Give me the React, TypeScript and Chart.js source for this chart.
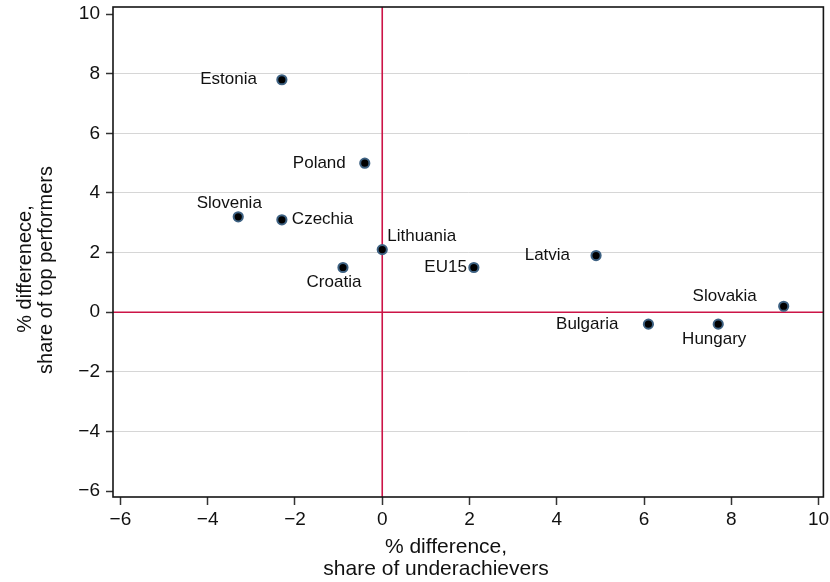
import React, { useEffect, useRef } from "react";
import { Chart, registerables } from "chart.js";

Chart.register(...registerables);

const COUNTRIES = ["Estonia", "Poland", "Slovenia", "Czechia", "Lithuania", "Croatia", "EU15", "Latvia", "Slovakia", "Bulgaria", "Hungary"];
const UNDERACHIEVERS_DIFF = [-2.3, -0.4, -3.3, -2.3, 0.0, -0.9, 2.1, 4.9, 9.2, 6.1, 7.7];
const TOP_PERFORMERS_DIFF = [7.8, 5.0, 3.2, 3.1, 2.1, 1.5, 1.5, 1.9, 0.2, -0.4, -0.4];
const X_TICKS = [-6, -4, -2, 0, 2, 4, 6, 8, 10];
const Y_TICKS = [-6, -4, -2, 0, 2, 4, 6, 8, 10];
const X_TITLE = ["% difference,", "share of underachievers"];
const Y_TITLE = ["% differenece,", "share of top performers"];

// label placement: [textAlign, dx, dy]
const LABEL_POS: [CanvasTextAlign, number, number][] = [
  ["right", -25, 0],
  ["right", -19, 0],
  ["center", -9, -14],
  ["left", 10, 0],
  ["left", 5, -13],
  ["center", -9, 15],
  ["right", -7, 0],
  ["right", -26, 0],
  ["center", -59, -10],
  ["right", -30, 0],
  ["center", -4, 15],
];

const FONT = "'Liberation Sans', Arial, Helvetica, sans-serif";
const RED = "#cc1447";

const overlay = {
  id: "overlay",
  beforeDatasetsDraw(chart: any) {
    const { ctx, chartArea: a, scales } = chart;
    const x0 = scales.x.getPixelForValue(0);
    const y0 = scales.y.getPixelForValue(0);
    ctx.save();
    ctx.strokeStyle = RED;
    ctx.lineWidth = 1.6;
    ctx.beginPath();
    ctx.moveTo(x0, a.top);
    ctx.lineTo(x0, a.bottom);
    ctx.moveTo(a.left, y0);
    ctx.lineTo(a.right, y0);
    ctx.stroke();
    ctx.strokeStyle = "#151515";
    ctx.lineWidth = 1.6;
    ctx.strokeRect(a.left, a.top, a.right - a.left, a.bottom - a.top);
    ctx.restore();
  },
  afterDatasetsDraw(chart: any) {
    const { ctx } = chart;
    const meta = chart.getDatasetMeta(0);
    ctx.save();
    ctx.fillStyle = "#111";
    ctx.font = `17px ${FONT}`;
    ctx.textBaseline = "middle";
    meta.data.forEach((pt: any, i: number) => {
      const [align, dx, dy] = LABEL_POS[i];
      ctx.textAlign = align;
      ctx.fillText(COUNTRIES[i], pt.x + dx, pt.y + dy);
    });
    // axis titles
    ctx.font = `21px ${FONT}`;
    ctx.textBaseline = "alphabetic";
    ctx.textAlign = "center";
    ctx.fillText(X_TITLE[0], 446, 553);
    ctx.fillText(X_TITLE[1], 436, 575);
    ctx.font = `20px ${FONT}`;
    ctx.save();
    ctx.translate(31, 269);
    ctx.rotate(-Math.PI / 2);
    ctx.fillText(Y_TITLE[0], 0, 0);
    ctx.restore();
    ctx.save();
    ctx.translate(52, 270);
    ctx.rotate(-Math.PI / 2);
    ctx.fillText(Y_TITLE[1], 0, 0);
    ctx.restore();
    ctx.restore();
  },
};

const fmt = (v: any) => String(v).replace("-", "\u2212");

export default function App() {
  const ref = useRef<HTMLCanvasElement>(null);
  useEffect(() => {
    if (!ref.current) return;
    const chart = new Chart(ref.current, {
      type: "scatter",
      data: {
        datasets: [
          {
            data: COUNTRIES.map((_, i) => ({ x: UNDERACHIEVERS_DIFF[i], y: TOP_PERFORMERS_DIFF[i] })),
            backgroundColor: "#000",
            borderColor: "#3d6182",
            borderWidth: 2,
            pointRadius: 4.6,
          },
        ],
      },
      options: {
        responsive: false,
        animation: false,
        devicePixelRatio: 1,
        layout: { padding: { left: 0, right: 6, top: 7, bottom: 0 } },
        plugins: { legend: { display: false }, tooltip: { enabled: false } },
        scales: {
          x: {
            type: "linear",
            min: -6.17,
            max: 10.11,
            afterBuildTicks: (s: any) => {
              s.ticks = X_TICKS.map((v) => ({ value: v }));
            },
            afterFit: (s: any) => {
              s.height = 85;
              s.paddingLeft = 0;
              s.paddingRight = 0;
            },
            border: { display: false },
            grid: {
              drawOnChartArea: false,
              drawTicks: true,
              tickLength: 8,
              tickColor: "#333",
              tickWidth: 1.5,
            },
            ticks: {
              autoSkip: false,
              maxRotation: 0,
              padding: 3,
              color: "#111",
              font: { family: FONT, size: 19 },
              callback: fmt,
            },
          },
          y: {
            type: "linear",
            min: -6.2,
            max: 10.24,
            afterBuildTicks: (s: any) => {
              s.ticks = Y_TICKS.map((v) => ({ value: v }));
            },
            afterFit: (s: any) => {
              s.width = 113;
              s.paddingTop = 0;
              s.paddingBottom = 0;
            },
            border: { display: false },
            grid: {
              drawTicks: true,
              tickLength: 7,
              tickColor: "#333",
              tickWidth: 1.5,
              lineWidth: 1,
              color: (c: any) => {
                const v = c.tick ? c.tick.value : null;
                return v === 0 || v === 10 || v === -6 ? "rgba(0,0,0,0)" : "#d6d6d6";
              },
            },
            ticks: {
              autoSkip: false,
              padding: 6,
              color: "#111",
              font: { family: FONT, size: 19 },
              callback: fmt,
            },
          },
        },
      },
      plugins: [overlay],
    });
    return () => chart.destroy();
  }, []);
  return (
    <div style={{ position: "fixed", left: 0, top: 0, width: 830, height: 582, background: "#fff" }}>
      <canvas ref={ref} width={830} height={582} style={{ display: "block" }} />
    </div>
  );
}
